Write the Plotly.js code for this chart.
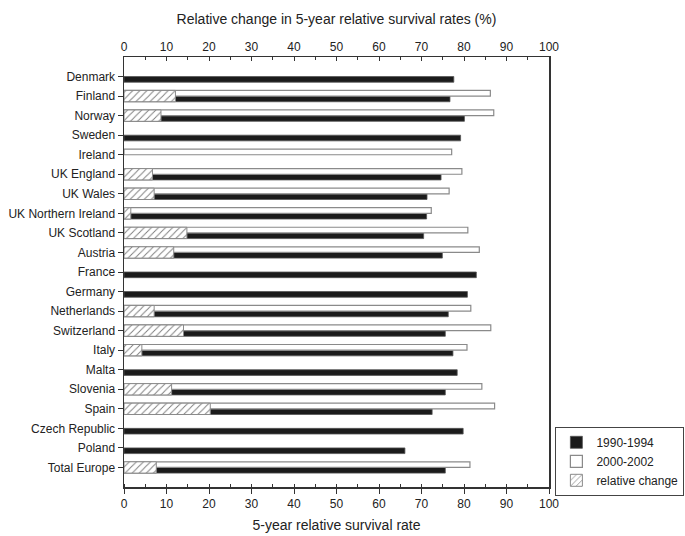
<!DOCTYPE html>
<html>
<head>
<meta charset="utf-8">
<script src="https://cdn.plot.ly/plotly-3.0.1.min.js"></script>
<style>
  html, body { margin: 0; padding: 0; background: #fff; }
  #chart { width: 685px; height: 536px; }
</style>
</head>
<body>
<div id="chart"></div>
<script>
// Countries, top to bottom
const countries = [
  "Denmark", "Finland", "Norway", "Sweden", "Ireland", "UK England", "UK Wales",
  "UK Northern Ireland", "UK Scotland", "Austria", "France", "Germany",
  "Netherlands", "Switzerland", "Italy", "Malta", "Slovenia", "Spain",
  "Czech Republic", "Poland", "Total Europe"
];

// 5-year relative survival (%), 1990-1994
const survival1990 = [
  77.6, 76.7, 80.1, 79.2, null, 74.6, 71.3,
  71.2, 70.5, 74.9, 82.9, 80.8,
  76.3, 75.6, 77.4, 78.4, 75.6, 72.5,
  79.8, 66.1, 75.6
];

// 5-year relative survival (%), 2000-2002
const survival2000 = [
  null, 86.2, 87.0, null, 77.1, 79.5, 76.5,
  72.3, 80.9, 83.6, null, null,
  81.6, 86.3, 80.7, null, 84.2, 87.2,
  null, null, 81.4
];

// Relative change between the two periods (%)
const relativeChange = [
  null, 12.1, 8.7, null, null, 6.7, 7.1,
  1.6, 14.8, 11.7, null, null,
  7.1, 14.0, 4.2, null, 11.2, 20.3,
  null, null, 7.6
];

const tickVals = [0, 10, 20, 30, 40, 50, 60, 70, 80, 90, 100];

const FONT = "Liberation Sans, Arial, sans-serif";
const INK = "#222";
const half = 0.29;

const traces = [
  {
    type: "bar", orientation: "h", name: "1990-1994",
    y: countries, x: survival1990,
    offset: 0, width: half,
    marker: { color: "#1b1b1b", line: { color: "#555", width: 0.8 } },
    xaxis: "x", yaxis: "y", hoverinfo: "x+y"
  },
  {
    type: "bar", orientation: "h", name: "2000-2002",
    y: countries, x: survival2000,
    offset: -half, width: half,
    marker: { color: "#ffffff", line: { color: "#8a8a8a", width: 1.2 } },
    xaxis: "x", yaxis: "y", hoverinfo: "x+y"
  },
  {
    type: "bar", orientation: "h", name: "relative change",
    y: countries, x: relativeChange,
    offset: -half, width: 2 * half,
    marker: {
      color: "#ffffff",
      line: { color: "#8a8a8a", width: 1 },
      pattern: { shape: "/", fgcolor: "#7a7a7a", bgcolor: "#ffffff", size: 5, solidity: 0.18 }
    },
    xaxis: "x2", yaxis: "y", hoverinfo: "x+y"
  }
];

const axisCommon = {
  range: [0, 100],
  tickvals: tickVals,
  showgrid: false,
  zeroline: false,
  showline: true,
  linecolor: "#333",
  linewidth: 1.5,
  tickcolor: "#333",
  tickfont: { family: FONT, size: 12, color: INK }
};

const layout = {
  width: 685, height: 536,
  margin: { l: 124, r: 136, t: 57, b: 49, autoexpand: false },
  paper_bgcolor: "#fff", plot_bgcolor: "#fff",
  barmode: "overlay",
  font: { family: FONT, size: 12, color: INK },
  showlegend: true,
  legend: {
    x: 1.015, xanchor: "left", y: 0.14, yanchor: "top",
    bordercolor: "#444", borderwidth: 1, bgcolor: "#fff",
    font: { family: FONT, size: 12, color: INK },
    traceorder: "normal", tracegroupgap: 0
  },
  xaxis: Object.assign({}, axisCommon, {
    side: "bottom",
    ticks: "outside", ticklen: 5, tickwidth: 1,
    minor: { dtick: 5, tick0: 0, ticks: "inside", ticklen: 3, tickcolor: "#333" },
    title: { text: "5-year relative survival rate", font: { family: FONT, size: 14, color: INK }, standoff: 10 }
  }),
  xaxis2: Object.assign({}, axisCommon, {
    side: "top", overlaying: "x", anchor: "y",
    ticks: "inside", ticklen: 4, tickwidth: 1,
    minor: { dtick: 5, tick0: 0, ticks: "inside", ticklen: 3, tickcolor: "#333" },
    title: { text: "Relative change in 5-year relative survival rates (%)", font: { family: FONT, size: 14, color: INK }, standoff: 12 }
  }),
  yaxis: {
    type: "category",
    categoryorder: "array", categoryarray: countries,
    range: [21, -1],
    showgrid: false, zeroline: false,
    showline: true, mirror: true, linecolor: "#333", linewidth: 1.5,
    ticks: "outside", ticklen: 5, tickcolor: "#333",
    tickfont: { family: FONT, size: 12, color: INK }
  }
};

Plotly.newPlot("chart", traces, layout, { displayModeBar: false, staticPlot: true });
</script>
</body>
</html>
